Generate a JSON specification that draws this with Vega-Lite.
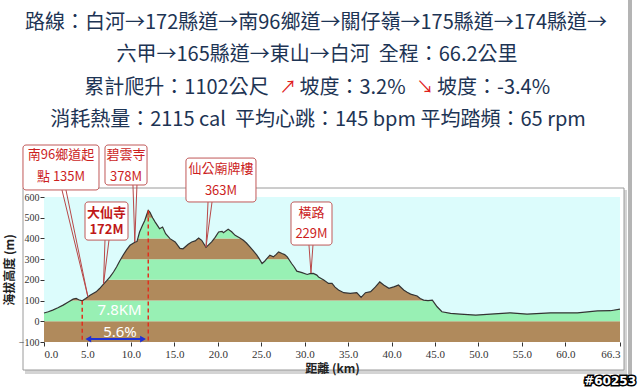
{
  "$schema": "https://vega.github.io/schema/vega-lite/v6.json",
  "autosize": {"type": "none"},
  "width": 576,
  "height": 145,
  "padding": {"left": 44, "top": 197, "right": 20, "bottom": 45},
  "background": "#ffffff",
  "config": {"view": {"stroke": "#4d4d4d", "strokeWidth": 1}, "axisY": {"labelOverlap": false, "labelBound": false, "tickCount": 8}, "axisX": {"labelOverlap": false}},
  "datasets": {
    "profile": [
      {"km": 0.0, "elev": 40}, {"km": 0.5, "elev": 46}, {"km": 1.0, "elev": 54}, {"km": 1.6, "elev": 65},
      {"km": 2.2, "elev": 78}, {"km": 2.8, "elev": 93}, {"km": 3.35, "elev": 107}, {"km": 3.7, "elev": 110},
      {"km": 4.0, "elev": 104}, {"km": 4.4, "elev": 99}, {"km": 4.8, "elev": 110}, {"km": 5.3, "elev": 126},
      {"km": 6.0, "elev": 142}, {"km": 6.4, "elev": 158}, {"km": 6.8, "elev": 177}, {"km": 7.2, "elev": 195},
      {"km": 7.6, "elev": 214}, {"km": 8.0, "elev": 238}, {"km": 8.35, "elev": 262}, {"km": 8.7, "elev": 290},
      {"km": 9.1, "elev": 319}, {"km": 9.5, "elev": 345}, {"km": 9.9, "elev": 367}, {"km": 10.5, "elev": 383},
      {"km": 10.7, "elev": 385}, {"km": 11.0, "elev": 431}, {"km": 11.3, "elev": 460}, {"km": 11.6, "elev": 487},
      {"km": 11.85, "elev": 518}, {"km": 12.0, "elev": 535}, {"km": 12.2, "elev": 526}, {"km": 12.5, "elev": 500},
      {"km": 12.8, "elev": 479}, {"km": 13.3, "elev": 447}, {"km": 13.65, "elev": 455}, {"km": 14.0, "elev": 423},
      {"km": 14.5, "elev": 399}, {"km": 15.1, "elev": 383}, {"km": 15.65, "elev": 352}, {"km": 16.0, "elev": 350},
      {"km": 16.6, "elev": 372}, {"km": 17.0, "elev": 383}, {"km": 17.4, "elev": 388}, {"km": 17.8, "elev": 402},
      {"km": 18.15, "elev": 391}, {"km": 18.65, "elev": 357}, {"km": 19.3, "elev": 383}, {"km": 19.7, "elev": 405},
      {"km": 20.1, "elev": 431}, {"km": 20.5, "elev": 434}, {"km": 20.65, "elev": 428}, {"km": 21.2, "elev": 444},
      {"km": 21.6, "elev": 432}, {"km": 22.0, "elev": 415}, {"km": 22.5, "elev": 403}, {"km": 22.95, "elev": 391},
      {"km": 23.3, "elev": 378}, {"km": 23.7, "elev": 359}, {"km": 24.1, "elev": 340}, {"km": 24.5, "elev": 319},
      {"km": 24.8, "elev": 300}, {"km": 25.1, "elev": 279}, {"km": 25.4, "elev": 290}, {"km": 25.65, "elev": 303},
      {"km": 26.0, "elev": 319}, {"km": 26.4, "elev": 311}, {"km": 26.7, "elev": 322}, {"km": 27.0, "elev": 335},
      {"km": 27.4, "elev": 327}, {"km": 27.7, "elev": 322}, {"km": 28.0, "elev": 311}, {"km": 28.5, "elev": 279},
      {"km": 28.8, "elev": 262}, {"km": 29.1, "elev": 242}, {"km": 29.7, "elev": 235}, {"km": 30.3, "elev": 226},
      {"km": 30.6, "elev": 230}, {"km": 31.0, "elev": 231}, {"km": 31.4, "elev": 223}, {"km": 31.6, "elev": 214},
      {"km": 32.2, "elev": 199}, {"km": 32.75, "elev": 183}, {"km": 33.15, "elev": 183}, {"km": 33.5, "elev": 165},
      {"km": 33.9, "elev": 151}, {"km": 34.5, "elev": 138}, {"km": 35.25, "elev": 135}, {"km": 36.0, "elev": 138},
      {"km": 36.5, "elev": 115}, {"km": 37.0, "elev": 138}, {"km": 37.6, "elev": 143}, {"km": 38.15, "elev": 166},
      {"km": 38.65, "elev": 190}, {"km": 39.1, "elev": 175}, {"km": 39.7, "elev": 159}, {"km": 40.25, "elev": 166},
      {"km": 40.5, "elev": 170}, {"km": 40.8, "elev": 175}, {"km": 41.4, "elev": 151}, {"km": 41.8, "elev": 140},
      {"km": 42.2, "elev": 131}, {"km": 42.95, "elev": 122}, {"km": 43.3, "elev": 110}, {"km": 43.7, "elev": 102},
      {"km": 44.2, "elev": 100}, {"km": 44.7, "elev": 102}, {"km": 45.25, "elev": 70}, {"km": 45.8, "elev": 46},
      {"km": 46.8, "elev": 38}, {"km": 47.9, "elev": 35}, {"km": 49.7, "elev": 30}, {"km": 51.4, "elev": 35},
      {"km": 53.7, "elev": 41}, {"km": 55.6, "elev": 35}, {"km": 58.3, "elev": 41}, {"km": 61.4, "elev": 41},
      {"km": 63.7, "elev": 50}, {"km": 65.2, "elev": 51}, {"km": 66.3, "elev": 59}
    ],
    "bands": [
      {"lo": -100, "hi": 0, "band": "b"}, {"lo": 0, "hi": 100, "band": "g"},
      {"lo": 100, "hi": 200, "band": "b"}, {"lo": 200, "hi": 300, "band": "g"},
      {"lo": 300, "hi": 400, "band": "b"}, {"lo": 400, "hi": 500, "band": "g"},
      {"lo": 500, "hi": 600, "band": "b"}
    ],
    "markers": [{"km": 4.4, "top": 99}, {"km": 12.0, "top": 535}],
    "boxes": [
      {"x1": -2.42, "x2": 6.33, "y1": 851, "y2": 634},
      {"x1": 7.02, "x2": 11.86, "y1": 851, "y2": 658},
      {"x1": 4.72, "x2": 9.67, "y1": 576, "y2": 392},
      {"x1": 16.34, "x2": 24.4, "y1": 788, "y2": 576},
      {"x1": 28.43, "x2": 33.15, "y1": 576, "y2": 368}
    ],
    "pointers": [
      {"bx": 2.07, "by": 634, "tx": 5.05, "ty": 119}, {"bx": 2.53, "by": 634, "tx": 5.05, "ty": 119},
      {"bx": 10.24, "by": 658, "tx": 10.45, "ty": 383}, {"bx": 10.7, "by": 658, "tx": 10.45, "ty": 383},
      {"bx": 7.02, "by": 392, "tx": 6.85, "ty": 180}, {"bx": 7.48, "by": 392, "tx": 6.85, "ty": 180},
      {"bx": 18.88, "by": 576, "tx": 18.65, "ty": 359}, {"bx": 19.34, "by": 576, "tx": 18.65, "ty": 359},
      {"bx": 30.5, "by": 368, "tx": 30.73, "ty": 233}, {"bx": 30.96, "by": 368, "tx": 30.73, "ty": 233}
    ],
    "labels": [
      {"km": 1.96, "elev": 803, "t": "南96鄉道起"}, {"km": 1.96, "elev": 697, "t": "點 135M"},
      {"km": 9.44, "elev": 803, "t": "碧雲寺"}, {"km": 9.44, "elev": 697, "t": "378M"},
      {"km": 20.37, "elev": 734, "t": "仙公廟牌樓"}, {"km": 20.37, "elev": 630, "t": "363M"},
      {"km": 30.79, "elev": 521, "t": "橫路"}, {"km": 30.79, "elev": 420, "t": "229M"}
    ],
    "boldlabels": [
      {"km": 7.19, "elev": 524, "t": "大仙寺"}, {"km": 7.19, "elev": 441, "t": "172M"}
    ],
    "span": [{"a": 5.25, "b": 11.25, "y": -86}],
    "heads": [{"km": 5.1, "y": -86, "s": "triangle-left"}, {"km": 11.4, "y": -86, "s": "triangle-right"}],
    "inside": [{"km": 8.7, "elev": 55, "t": "7.8KM"}, {"km": 8.75, "elev": -50, "t": "5.6%"}]
  },
  "layer": [
    {
      "data": {"values": [{}]},
      "mark": {"type": "rect", "fill": "#b4b4b4"},
      "encoding": {"x": {"value": 584}, "x2": {"value": 588}, "y": {"value": -197}, "y2": {"value": 181}}
    },
    {
      "data": {"values": [{}]},
      "mark": {"type": "rect", "fill": "#d4d4d4"},
      "encoding": {"x": {"value": -19}, "x2": {"value": 583}, "y": {"value": -7}, "y2": {"value": 177}}
    },
    {
      "data": {"values": [{}]},
      "mark": {"type": "rect", "fill": "#ffffff", "stroke": "#9a9a9a", "strokeWidth": 1},
      "encoding": {"x": {"value": -21}, "x2": {"value": 580}, "y": {"value": -9}, "y2": {"value": 173}}
    },
    {
      "data": {"name": "bands"},
      "mark": {"type": "rect"},
      "encoding": {
        "x": {"datum": 0, "type": "quantitative", "scale": {"domain": [0, 66.3], "nice": false, "zero": false},
          "axis": {"values": [0, 5, 10, 15, 20, 25, 30, 35, 40, 45, 50, 55, 60, 66.3], "format": ".1f", "labelOverlap": false,
            "labelFont": "Liberation Serif", "labelFontSize": 11, "labelColor": "#333333", "tickColor": "#333333", "tickSize": 4,
            "domain": false, "grid": false, "labelPadding": 2, "zindex": 1, "title": "距離  (km)", "titleFont": "Noto Sans CJK TC",
            "titleFontSize": 12, "titleFontWeight": "bold", "titleColor": "#222222", "titlePadding": 4}},
        "x2": {"datum": 66.3},
        "y": {"field": "lo", "type": "quantitative", "scale": {"domain": [-100, 600], "nice": false, "zero": false},
          "axis": {"values": [-100, 0, 100, 200, 300, 400, 500, 600], "labelOverlap": false, "labelFont": "Liberation Serif", "labelFontSize": 10,
            "labelColor": "#333333", "tickColor": "#333333", "tickSize": 4, "domain": false, "grid": false, "labelPadding": 1,
            "zindex": 1, "title": "海拔高度 (m)", "titleFont": "Noto Sans CJK TC", "titleFontSize": 12, "titleFontWeight": "bold",
            "titleColor": "#222222", "titlePadding": 2}},
        "y2": {"field": "hi"},
        "color": {"field": "band", "type": "nominal", "scale": {"domain": ["b", "g"], "range": ["#b08a5c", "#98f0b4"]}, "legend": null}
      }
    },
    {
      "data": {"name": "profile"},
      "mark": {"type": "area", "color": "#dcfcfc", "opacity": 1},
      "encoding": {
        "x": {"field": "km", "type": "quantitative"},
        "y": {"field": "elev", "type": "quantitative", "axis": {"values": [-100, 0, 100, 200, 300, 400, 500, 600], "labelOverlap": false}},
        "y2": {"datum": 600}
      }
    },
    {
      "data": {"name": "profile"},
      "mark": {"type": "line", "color": "#333333", "strokeWidth": 1.2},
      "encoding": {
        "x": {"field": "km", "type": "quantitative"},
        "y": {"field": "elev", "type": "quantitative", "axis": {"values": [-100, 0, 100, 200, 300, 400, 500, 600], "labelOverlap": false}}
      }
    },
    {
      "data": {"name": "markers"},
      "mark": {"type": "rule", "color": "#e0301e", "strokeWidth": 1.5, "strokeDash": [4, 3]},
      "encoding": {
        "x": {"field": "km", "type": "quantitative"},
        "y": {"field": "top", "type": "quantitative"},
        "y2": {"datum": -100}
      }
    },
    {
      "data": {"name": "span"},
      "mark": {"type": "rule", "color": "#1f2fd6", "strokeWidth": 2},
      "encoding": {
        "x": {"field": "a", "type": "quantitative"},
        "x2": {"field": "b"},
        "y": {"field": "y", "type": "quantitative"}
      }
    },
    {
      "data": {"name": "heads"},
      "mark": {"type": "point", "filled": true, "color": "#1f2fd6", "size": 45, "opacity": 1},
      "encoding": {
        "x": {"field": "km", "type": "quantitative"},
        "y": {"field": "y", "type": "quantitative"},
        "shape": {"field": "s", "type": "nominal", "scale": {"domain": ["triangle-left", "triangle-right"], "range": ["triangle-left", "triangle-right"]}, "legend": null}
      }
    },
    {
      "data": {"name": "inside"},
      "mark": {"type": "text", "color": "#ffffff", "font": "Noto Sans", "fontSize": 15, "baseline": "middle", "align": "center"},
      "encoding": {
        "x": {"field": "km", "type": "quantitative"},
        "y": {"field": "elev", "type": "quantitative"},
        "text": {"field": "t"}
      }
    },
    {
      "data": {"name": "pointers"},
      "mark": {"type": "rule", "color": "#b84848", "strokeWidth": 1},
      "encoding": {
        "x": {"field": "bx", "type": "quantitative"},
        "y": {"field": "by", "type": "quantitative"},
        "x2": {"field": "tx"},
        "y2": {"field": "ty"}
      }
    },
    {
      "data": {"name": "boxes"},
      "mark": {"type": "rect", "fill": "#ffffff", "stroke": "#c05858", "strokeWidth": 1, "cornerRadius": 3},
      "encoding": {
        "x": {"field": "x1", "type": "quantitative"},
        "x2": {"field": "x2"},
        "y": {"field": "y1", "type": "quantitative"},
        "y2": {"field": "y2"}
      }
    },
    {
      "data": {"name": "labels"},
      "mark": {"type": "text", "color": "#cc1f1f", "font": "Noto Sans CJK TC", "fontSize": 13, "baseline": "middle", "align": "center"},
      "encoding": {
        "x": {"field": "km", "type": "quantitative"},
        "y": {"field": "elev", "type": "quantitative"},
        "text": {"field": "t"}
      }
    },
    {
      "data": {"name": "boldlabels"},
      "mark": {"type": "text", "color": "#c01818", "font": "Noto Sans CJK TC", "fontSize": 13, "fontWeight": "bold", "baseline": "middle", "align": "center"},
      "encoding": {
        "x": {"field": "km", "type": "quantitative"},
        "y": {"field": "elev", "type": "quantitative"},
        "text": {"field": "t"}
      }
    },
    {
      "data": {"values": [{}]},
      "mark": {"type": "text", "text": "路線：白河→172縣道→南96鄉道→關仔嶺→175縣道→174縣道→", "color": "#1d3454", "font": "Noto Sans CJK TC", "fontSize": 20, "align": "center", "baseline": "middle"},
      "encoding": {"x": {"value": 272}, "y": {"value": -174}}
    },
    {
      "data": {"values": [{}]},
      "mark": {"type": "text", "text": "六甲→165縣道→東山→白河 \u00a0全程：66.2公里", "color": "#1d3454", "font": "Noto Sans CJK TC", "fontSize": 20, "align": "center", "baseline": "middle"},
      "encoding": {"x": {"value": 273}, "y": {"value": -142}}
    },
    {
      "data": {"values": [{}]},
      "mark": {"type": "text", "text": "累計爬升：1102公尺", "color": "#1d3454", "font": "Noto Sans CJK TC", "fontSize": 20, "align": "center", "baseline": "middle"},
      "encoding": {"x": {"value": 132.5}, "y": {"value": -109}}
    },
    {
      "data": {"values": [{}]},
      "mark": {"type": "text", "text": "↗", "color": "#e02020", "font": "Noto Sans CJK TC", "fontSize": 17, "align": "center", "baseline": "middle"},
      "encoding": {"x": {"value": 244}, "y": {"value": -109}}
    },
    {
      "data": {"values": [{}]},
      "mark": {"type": "text", "text": "坡度：3.2%", "color": "#1d3454", "font": "Noto Sans CJK TC", "fontSize": 20, "align": "center", "baseline": "middle"},
      "encoding": {"x": {"value": 308.5}, "y": {"value": -109}}
    },
    {
      "data": {"values": [{}]},
      "mark": {"type": "text", "text": "↘", "color": "#e02020", "font": "Noto Sans CJK TC", "fontSize": 17, "align": "center", "baseline": "middle"},
      "encoding": {"x": {"value": 381}, "y": {"value": -109}}
    },
    {
      "data": {"values": [{}]},
      "mark": {"type": "text", "text": "坡度：-3.4%", "color": "#1d3454", "font": "Noto Sans CJK TC", "fontSize": 20, "align": "center", "baseline": "middle"},
      "encoding": {"x": {"value": 449.5}, "y": {"value": -109}}
    },
    {
      "data": {"values": [{}]},
      "mark": {"type": "text", "text": "消耗熱量：2115 cal \u00a0平均心跳：145 bpm 平均踏頻：65 rpm", "color": "#1d3454", "font": "Noto Sans CJK TC", "fontSize": 20, "align": "center", "baseline": "middle"},
      "encoding": {"x": {"value": 274}, "y": {"value": -77}}
    },
    {
      "data": {"values": [{}]},
      "mark": {"type": "text", "text": "#60253", "color": "#000000", "stroke": "#000000", "strokeWidth": 3, "font": "DejaVu Sans", "fontSize": 12, "fontWeight": "bold", "align": "right", "baseline": "middle"},
      "encoding": {"x": {"value": 592}, "y": {"value": 184}}
    },
    {
      "data": {"values": [{}]},
      "mark": {"type": "text", "text": "#60253", "color": "#ffffff", "font": "DejaVu Sans", "fontSize": 12, "fontWeight": "bold", "align": "right", "baseline": "middle"},
      "encoding": {"x": {"value": 592}, "y": {"value": 184}}
    }
  ]
}
